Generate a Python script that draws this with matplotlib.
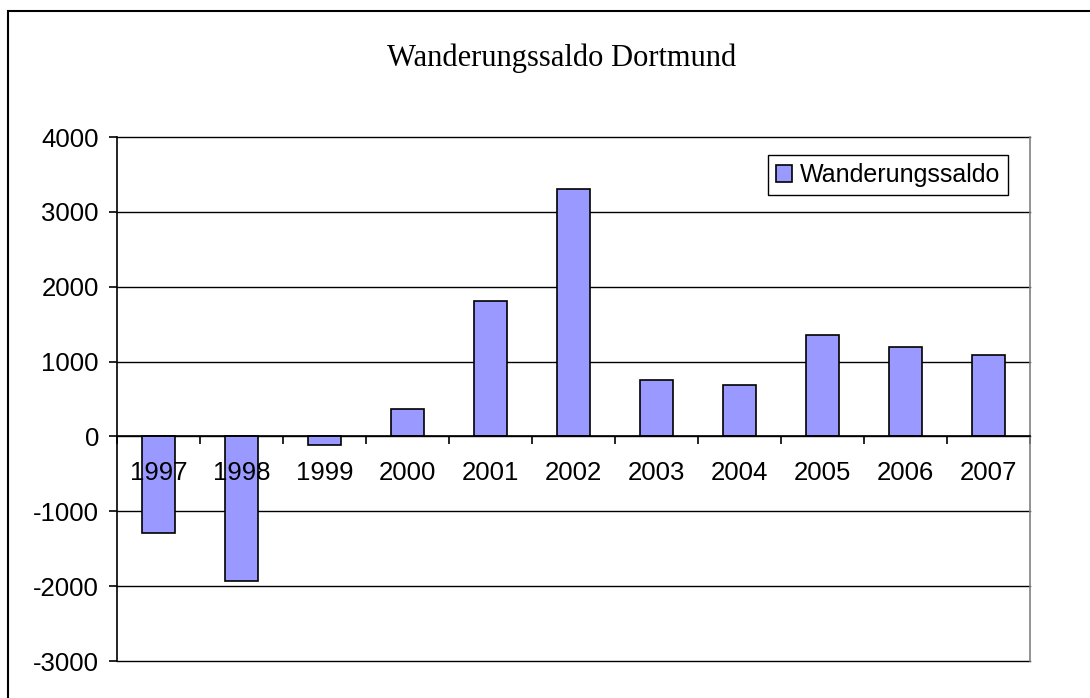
import matplotlib
matplotlib.use("Agg")
import matplotlib.pyplot as plt
from matplotlib.patches import Rectangle
import numpy as np

years = ["1997", "1998", "1999", "2000", "2001", "2002",
         "2003", "2004", "2005", "2006", "2007"]
saldo = [-1290, -1930, -110, 370, 1810, 3300, 750, 690, 1360, 1200, 1090]
yticks = [-3000, -2000, -1000, 0, 1000, 2000, 3000, 4000]

plt.rcParams["font.family"] = ["Liberation Sans", "DejaVu Sans"]

fig = plt.figure(figsize=(10.9, 6.98), dpi=100)
ax = fig.add_axes([0.1073, 0.053, 0.8376, 0.7507])

x = np.arange(len(years))
ax.bar(x, saldo, 0.4, color="#9999FF", edgecolor="black", linewidth=1.2,
       label="Wanderungssaldo", zorder=2)

# Axis limits / grid
ax.set_xlim(-0.5, len(years) - 0.5)
ax.set_ylim(-3000, 4000)
ax.set_yticks(yticks)
ax.set_yticklabels([str(v) for v in yticks], fontsize=18.5)
ax.yaxis.grid(True, color="black", linewidth=1.0)
for gl in ax.get_ygridlines():
    gl.set_clip_on(False)
ax.set_axisbelow(True)

# Spines: value axis left, category axis at zero
ax.spines["top"].set_visible(False)
ax.spines["right"].set_color("#808080")
ax.spines["right"].set_linewidth(1.2)
ax.spines["left"].set_linewidth(1.2)
ax.spines["bottom"].set_position(("data", 0))
ax.spines["bottom"].set_linewidth(1.2)
ax.tick_params(axis="y", direction="out", length=6, width=1.2, pad=7)

# Category ticks at boundaries, labels drawn over the bars
ax.set_xticks(np.arange(len(years) + 1) - 0.5)
ax.set_xticklabels([])
ax.tick_params(axis="x", direction="out", length=6, width=1.2)
for i, yr in enumerate(years):
    ax.annotate(yr, (i, 0), xytext=(0, -18), textcoords="offset points",
                ha="center", va="top", fontsize=18.5, zorder=5)

# Title
fig.text(562 / 1090, 1 - 58 / 698, "Wanderungssaldo Dortmund",
         family="Liberation Serif", fontsize=22, ha="center", va="center")

# Legend
leg = ax.legend(loc="upper right", bbox_to_anchor=(0.976, 0.965),
                fontsize=18, fancybox=False, framealpha=1,
                handlelength=0.65, handleheight=0.65, handletextpad=0.3,
                borderpad=0.32, borderaxespad=0)
leg.get_frame().set_edgecolor("black")
leg.get_frame().set_linewidth(1.0)

# Chart area frame
fig.patches.append(Rectangle((0.007, -0.1), 1.2, 1.1 - 11 / 698,
                             transform=fig.transFigure, fill=False,
                             edgecolor="black", linewidth=1.5))

plt.savefig("out.png", dpi=100)
